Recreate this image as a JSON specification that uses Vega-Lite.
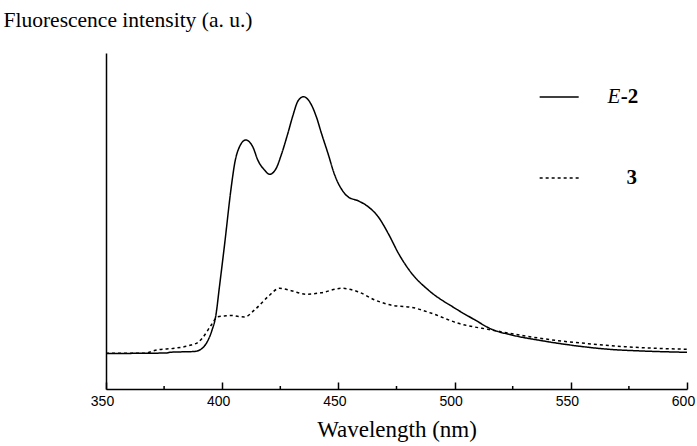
{
  "$schema": "https://vega.github.io/schema/vega-lite/v6.json",
  "width": 581,
  "height": 336,
  "autosize": "none",
  "padding": {"left": 106, "top": 53, "right": 10, "bottom": 57},
  "config": {"view": {"stroke": null}, "background": "white"},
  "datasets": {
    "curves": [
      {"series": "E-2", "nm": 350, "v": 33.5},
      {"series": "E-2", "nm": 376, "v": 34},
      {"series": "E-2", "nm": 378, "v": 34.8},
      {"series": "E-2", "nm": 388, "v": 35.5},
      {"series": "E-2", "nm": 391, "v": 38},
      {"series": "E-2", "nm": 393.5, "v": 45},
      {"series": "E-2", "nm": 395.5, "v": 56},
      {"series": "E-2", "nm": 397.3, "v": 72},
      {"series": "E-2", "nm": 398.8, "v": 100},
      {"series": "E-2", "nm": 401, "v": 142},
      {"series": "E-2", "nm": 403.9, "v": 200},
      {"series": "E-2", "nm": 405.4, "v": 224},
      {"series": "E-2", "nm": 407.4, "v": 240},
      {"series": "E-2", "nm": 410.1, "v": 247},
      {"series": "E-2", "nm": 413.2, "v": 240},
      {"series": "E-2", "nm": 415.3, "v": 227},
      {"series": "E-2", "nm": 418.2, "v": 217},
      {"series": "E-2", "nm": 420.4, "v": 212.7},
      {"series": "E-2", "nm": 423.3, "v": 219},
      {"series": "E-2", "nm": 425.4, "v": 232},
      {"series": "E-2", "nm": 428.3, "v": 254},
      {"series": "E-2", "nm": 430.5, "v": 272},
      {"series": "E-2", "nm": 432.6, "v": 286},
      {"series": "E-2", "nm": 435, "v": 290.3},
      {"series": "E-2", "nm": 437.6, "v": 285.3},
      {"series": "E-2", "nm": 440.5, "v": 270.3},
      {"series": "E-2", "nm": 442.7, "v": 253.7},
      {"series": "E-2", "nm": 445.5, "v": 233.7},
      {"series": "E-2", "nm": 448.4, "v": 212},
      {"series": "E-2", "nm": 451.3, "v": 198},
      {"series": "E-2", "nm": 454.1, "v": 190.3},
      {"series": "E-2", "nm": 458.4, "v": 186.3},
      {"series": "E-2", "nm": 462.8, "v": 180.3},
      {"series": "E-2", "nm": 467.1, "v": 170.3},
      {"series": "E-2", "nm": 471.4, "v": 153.7},
      {"series": "E-2", "nm": 476, "v": 133},
      {"series": "E-2", "nm": 481.5, "v": 113.7},
      {"series": "E-2", "nm": 488.7, "v": 97},
      {"series": "E-2", "nm": 500.2, "v": 78.7},
      {"series": "E-2", "nm": 508.8, "v": 67},
      {"series": "E-2", "nm": 516, "v": 57.7},
      {"series": "E-2", "nm": 524.6, "v": 52},
      {"series": "E-2", "nm": 537.5, "v": 46.3},
      {"series": "E-2", "nm": 551.9, "v": 41.3},
      {"series": "E-2", "nm": 566.4, "v": 37.7},
      {"series": "E-2", "nm": 580.6, "v": 36},
      {"series": "E-2", "nm": 600, "v": 34.7},
      {"series": "3", "nm": 350, "v": 33.7},
      {"series": "3", "nm": 366, "v": 33.7},
      {"series": "3", "nm": 372.3, "v": 37.2},
      {"series": "3", "nm": 379.4, "v": 38.7},
      {"series": "3", "nm": 386.6, "v": 42},
      {"series": "3", "nm": 389.5, "v": 44.5},
      {"series": "3", "nm": 391.5, "v": 49},
      {"series": "3", "nm": 395.3, "v": 62},
      {"series": "3", "nm": 398.1, "v": 70.3},
      {"series": "3", "nm": 401, "v": 71},
      {"series": "3", "nm": 404, "v": 71.5},
      {"series": "3", "nm": 407, "v": 70.5},
      {"series": "3", "nm": 409.6, "v": 70},
      {"series": "3", "nm": 413.9, "v": 77},
      {"series": "3", "nm": 419.7, "v": 90.3},
      {"series": "3", "nm": 424.7, "v": 98.7},
      {"series": "3", "nm": 429.7, "v": 96.3},
      {"series": "3", "nm": 436.2, "v": 92.7},
      {"series": "3", "nm": 442.7, "v": 94.3},
      {"series": "3", "nm": 451.3, "v": 98.7},
      {"series": "3", "nm": 458.4, "v": 95.3},
      {"series": "3", "nm": 465.7, "v": 87},
      {"series": "3", "nm": 473.5, "v": 81.5},
      {"series": "3", "nm": 481.5, "v": 79.7},
      {"series": "3", "nm": 490.1, "v": 73.7},
      {"series": "3", "nm": 501.6, "v": 63.7},
      {"series": "3", "nm": 516, "v": 57},
      {"series": "3", "nm": 530.4, "v": 51},
      {"series": "3", "nm": 544.7, "v": 46.3},
      {"series": "3", "nm": 559.1, "v": 43},
      {"series": "3", "nm": 573.4, "v": 40.3},
      {"series": "3", "nm": 600, "v": 37.7}
    ],
    "minor": [
      {"nm": 375, "y0": -2, "y1": 1},
      {"nm": 425, "y0": -2, "y1": 1},
      {"nm": 475, "y0": -2, "y1": 1},
      {"nm": 525, "y0": -2, "y1": 1},
      {"nm": 575, "y0": -2, "y1": 1}
    ],
    "legend": [
      {"series": "E-2", "x0": 536.6, "x1": 553.4, "v": 290},
      {"series": "3", "x0": 536.6, "x1": 553.4, "v": 209}
    ],
    "labels": [
      {"t": "E", "nm": 571.3, "v": 290, "kind": "italic"},
      {"t": "-2", "nm": 571.5, "v": 290, "kind": "bold"},
      {"t": "3", "nm": 574, "v": 209, "kind": "bold"}
    ]
  },
  "layer": [
    {
      "data": {"name": "curves"},
      "mark": {"type": "line", "color": "black", "strokeWidth": 1.5, "interpolate": "monotone"},
      "encoding": {
        "x": {
          "field": "nm", "type": "quantitative",
          "scale": {"domain": [350, 600], "nice": false, "zero": false},
          "axis": {
            "values": [350, 400, 450, 500, 550, 600],
            "grid": false,
            "tickSize": -7,
            "tickColor": "black",
            "tickWidth": 1.5,
            "domainColor": "black",
            "domainWidth": 1.5,
            "labelPadding": 12,
            "labelFlush": false,
            "labelOffset": -4,
            "labelFont": "Liberation Sans",
            "labelFontSize": 14,
            "labelColor": "black",
            "title": "Wavelength (nm)",
            "titleFont": "Liberation Serif",
            "titleFontSize": 23,
            "titleFontWeight": "normal",
            "titleColor": "black",
            "titlePadding": 10
          }
        },
        "y": {
          "field": "v", "type": "quantitative",
          "scale": {"domain": [-2, 334], "nice": false, "zero": false},
          "axis": {
            "grid": false,
            "ticks": false,
            "labels": false,
            "domainColor": "black",
            "domainWidth": 1.5,
            "title": "Fluorescence intensity (a. u.)",
            "titleFont": "Liberation Serif",
            "titleFontSize": 21.5,
            "titleFontWeight": "normal",
            "titleColor": "black",
            "titleAngle": 0,
            "titleAlign": "left",
            "titleBaseline": "middle",
            "titleX": -103,
            "titleY": -33
          }
        },
        "strokeDash": {
          "field": "series", "type": "nominal",
          "scale": {"domain": ["E-2", "3"], "range": [[1, 0], [3, 3]]},
          "legend": null
        }
      }
    },
    {
      "data": {"name": "minor"},
      "mark": {"type": "rule", "color": "black", "strokeWidth": 1.5},
      "encoding": {
        "x": {"field": "nm", "type": "quantitative"},
        "y": {"field": "y0", "type": "quantitative"},
        "y2": {"field": "y1"}
      }
    },
    {
      "data": {"name": "legend"},
      "mark": {"type": "rule", "color": "black", "strokeWidth": 1.5},
      "encoding": {
        "x": {"field": "x0", "type": "quantitative"},
        "x2": {"field": "x1"},
        "y": {"field": "v", "type": "quantitative"},
        "strokeDash": {
          "field": "series", "type": "nominal",
          "scale": {"domain": ["E-2", "3"], "range": [[1, 0], [3, 3]]},
          "legend": null
        }
      }
    },
    {
      "data": {"name": "labels"},
      "transform": [{"filter": "datum.kind === 'italic'"}],
      "mark": {"type": "text", "font": "Liberation Serif", "fontSize": 21, "fontStyle": "italic", "align": "right", "baseline": "middle", "color": "black"},
      "encoding": {
        "x": {"field": "nm", "type": "quantitative"},
        "y": {"field": "v", "type": "quantitative"},
        "text": {"field": "t"}
      }
    },
    {
      "data": {"name": "labels"},
      "transform": [{"filter": "datum.kind === 'bold'"}],
      "mark": {"type": "text", "font": "Liberation Serif", "fontSize": 21, "fontWeight": "bold", "align": "left", "baseline": "middle", "color": "black"},
      "encoding": {
        "x": {"field": "nm", "type": "quantitative"},
        "y": {"field": "v", "type": "quantitative"},
        "text": {"field": "t"}
      }
    }
  ]
}
